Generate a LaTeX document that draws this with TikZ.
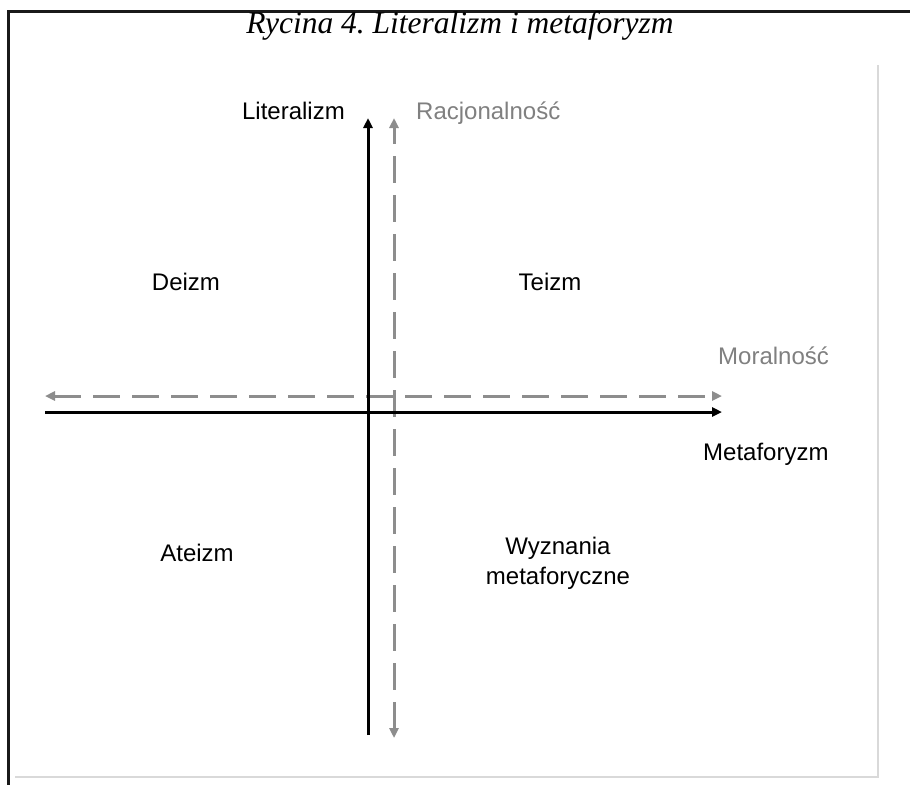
\documentclass[tikz,border=0pt]{standalone}
\usepackage{fontspec}
\setmainfont{Liberation Sans}
\newfontfamily\titlefont{Liberation Serif}
\usetikzlibrary{arrows.meta}
\frenchspacing
\definecolor{axgray}{RGB}{128,128,128}
\definecolor{framegray}{RGB}{217,217,217}
\begin{document}
\begin{tikzpicture}[x=1pt,y=-1pt,
  lbl/.style={font=\fontsize{24}{30}\selectfont, inner sep=0pt},
  graylbl/.style={lbl, text=axgray},
  blackaxis/.style={line width=3pt, black, -{Triangle[length=10pt,width=9pt]}},
  grayaxis/.style={line width=3pt, axgray!90, dash pattern=on 27pt off 12pt,
     {Triangle[length=10pt,width=9pt]}-{Triangle[length=10pt,width=9pt]}},
  outerframe/.style={line width=3pt, black!90},
  innerframe/.style={line width=1.5pt, framegray}]
\useasboundingbox (0,0) rectangle (910,785);
\fill[white] (0,0) rectangle (910,785);
% frames
\coordinate (fTL) at (8,11);
\coordinate (fTR) at (910,11);
\coordinate (fBL) at (8,785);
\draw[outerframe] (fTR) -- (fTL) -- (fBL);
\coordinate (iTR) at (878,65);
\coordinate (iBR) at (878,777);
\coordinate (iBL) at (15,777);
\draw[innerframe] (iTR) -- (iBR) -- (iBL);
% title
\node[anchor=base, inner sep=0pt, font=\titlefont\itshape\fontsize{31.5}{36}\selectfont] (title) at (460,33) {Rycina 4. Literalizm i metaforyzm};
% axes coordinates
\coordinate (vtop) at (368,118);
\coordinate (vbot) at (368,735);
\coordinate (htop) at (722,412);
\coordinate (hleft) at (45,412);
\coordinate (gvtop) at (394,118);
\coordinate (gvbot) at (394,738);
\coordinate (ghleft) at (45,396);
\coordinate (ghright) at (722,396);
% gray dashed axes
\draw[grayaxis] (gvbot) -- (gvtop);
\draw[grayaxis] (ghleft) -- (ghright);
% black axes
\draw[blackaxis] (vbot) -- (vtop);
\draw[blackaxis] (hleft) -- (htop);
% labels
\node[lbl, anchor=base east] (lit) at (345,119) {Literalizm};
\node[graylbl, anchor=base west] (rac) at (416,119) {Racjonalność};
\node[graylbl, anchor=base west] (mor) at (718,364) {Moralność};
\node[lbl, anchor=base west] (met) at (703,460) {Metaforyzm};
\node[lbl] (deizm) at (186,282) {Deizm};
\node[lbl] (teizm) at (550,282) {Teizm};
\node[lbl] (ateizm) at (197,553) {Ateizm};
\node[lbl, align=center] (wyzn) at (558,563) {Wyznania\\metaforyczne};
\end{tikzpicture}
\end{document}
